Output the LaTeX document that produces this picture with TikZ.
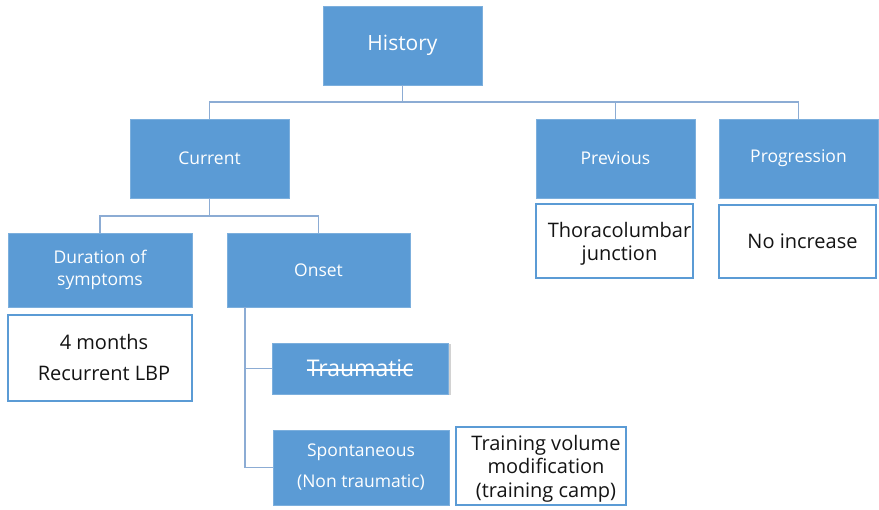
\documentclass[tikz,border=0pt]{standalone}
\usepackage{fontspec}
\setmainfont{Open Sans}
\definecolor{boxblue}{HTML}{5B9BD5}
\definecolor{linkblue}{RGB}{140,172,212}
\definecolor{txt}{RGB}{20,20,20}
% struck-through word: a rule laid over the box of the text
\newcommand\strikeword[1]{\setbox0\hbox{#1}\rlap{\raisebox{0.27em}{\rule{\wd0}{1.4pt}}}\box0}
\tikzset{
  bluebox/.style={rectangle, fill=boxblue, draw=boxblue!80!white, line width=0.6pt,
    text=white, align=center, inner sep=0pt, font=\fontsize{17.5}{22}\selectfont},
  whitebox/.style={rectangle, fill=white, draw=boxblue, line width=1.2pt, inner sep=0pt},
  boxtext/.style={text=txt, align=center, inner sep=0pt, label distance=0pt,
    xshift=5pt, font=\fontsize{20}{23}\selectfont},
  link/.style={draw=linkblue, line width=1.3pt},
}
\begin{document}
\begin{tikzpicture}[x=1pt,y=-1pt]
\useasboundingbox (0,0) rectangle (879,510);

% top level
\node[bluebox, minimum width=159pt, minimum height=79pt, font=\fontsize{21}{24}\selectfont] (history) at (402.5,45.5) {History};

% second level
\node[bluebox, minimum width=159pt, minimum height=79pt] (current) at (209.5,158.5) {Current};
\node[bluebox, minimum width=159pt, minimum height=79pt] (previous) at (615.5,158.5) {Previous};
\node[bluebox, minimum width=159pt, minimum height=79pt] (progression) at (798.5,158.5) {Progression};

\node[whitebox, minimum width=157pt, minimum height=74pt,
  label={[boxtext, yshift=-3pt]center:Thoracolumbar\\junction}] (thor) at (614.5,241) {};
\node[whitebox, minimum width=157pt, minimum height=73pt,
  label={[boxtext]center:No increase}] (noinc) at (797.5,241.5) {};

% third level
\node[bluebox, minimum width=184pt, minimum height=74pt] (duration) at (100,270) {\raisebox{-2pt}{Duration of}\\\raisebox{-2pt}{symptoms}};
\node[bluebox, minimum width=183pt, minimum height=74pt] (onset) at (318.5,270) {Onset};

\node[whitebox, minimum width=184pt, minimum height=86pt,
  label={[boxtext, xshift=-1pt, font=\fontsize{20}{31}\selectfont]center:4 months\\Recurrent LBP}] (months) at (100,358) {};

% onset branches
\fill[gray!35] (449,344) rectangle (451,395);
\node[bluebox, minimum width=176pt, minimum height=51pt, font=\fontsize{23}{24}\selectfont] (traumatic) at (360,368.5) {\strikeword{Traumatic}};
\node[bluebox, minimum width=176pt, minimum height=75pt, font=\fontsize{17.5}{31}\selectfont] (spont) at (361,467.5) {Spontaneous\\(Non traumatic)};
\node[whitebox, minimum width=170pt, minimum height=78pt,
  label={[boxtext, yshift=-2.5pt, font=\fontsize{20}{23.5}\selectfont]center:Training volume\\modification\\(training camp)}] (training) at (541,466) {};

% connectors
\coordinate (hb) at (402.5,102);
\draw[link] (history.south) -- (hb) -| (current.north);
\draw[link] (hb) -| (previous.north);
\draw[link] (hb) -| (progression.north);

\coordinate (cb) at (209.5,216);
\draw[link] (current.south) -- (cb) -| (duration.north);
\draw[link] (cb) -| (onset.north);

\coordinate (ob) at (245,307);
\draw[link] (ob) |- (traumatic.west);
\draw[link] (ob) |- (spont.west);
\end{tikzpicture}
\end{document}
